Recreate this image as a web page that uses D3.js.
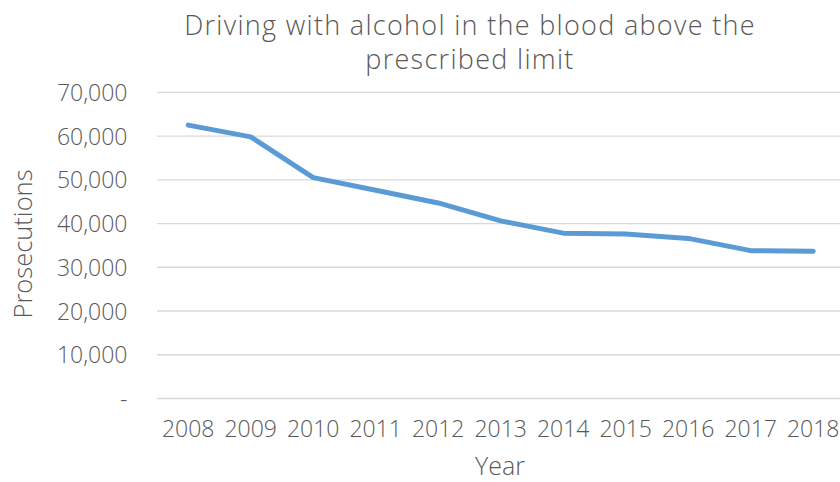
<!DOCTYPE html>
<html><head><meta charset="utf-8">
<script src="https://cdn.jsdelivr.net/npm/d3@7"></script>
<style>body{margin:0;background:#fff}text{font-family:"Open Sans",sans-serif;font-weight:300;fill:#595959}</style>
</head><body><svg id="c" width="840" height="482"></svg>
<script>
const years = ["2008","2009","2010","2011","2012","2013","2014","2015","2016","2017","2018"];
const prosecutions = [62500,59800,50500,47600,44700,40600,37800,37600,36600,33800,33650];
const yTicks = [0,10000,20000,30000,40000,50000,60000,70000];
const titleLines = ["Driving with alcohol in the blood above the","prescribed limit"];

(function(){
const svg = d3.select("#c");
const pL = 157, pR = 844.5, pT = 92.3, pB = 398.5;
const x = d3.scaleBand().domain(years).range([pL, pR]);
const y = d3.scaleLinear().domain([0,70000]).range([pB, pT]);

svg.append("g").selectAll("line").data(yTicks).join("line")
  .attr("x1", pL).attr("x2", 840).attr("y1", d=>y(d)).attr("y2", d=>y(d))
  .attr("stroke", "#d9d9d9").attr("stroke-width", 1.3);

const fmt = d3.format(",");
svg.append("g").selectAll("text").data(yTicks).join("text")
  .attr("x", 127.5).attr("y", d=>y(d)+8.5).attr("text-anchor","end")
  .attr("font-size", 23).text(d => d === 0 ? "-" : fmt(d));

svg.append("g").selectAll("text").data(years).join("text")
  .attr("x", d=>x(d)+x.bandwidth()/2).attr("y", 437).attr("text-anchor","middle")
  .attr("font-size", 23).text(d=>d);

const line = d3.line().x((d,i)=>x(years[i])+x.bandwidth()/2).y(d=>y(d));
svg.append("path").datum(prosecutions).attr("d", line)
  .attr("fill","none").attr("stroke","#5b9bd5").attr("stroke-width",5)
  .attr("stroke-linecap","round").attr("stroke-linejoin","round");

svg.append("text").attr("x", 500).attr("y", 475).attr("text-anchor","middle")
  .attr("font-size", 25).text("Year");
svg.append("text").attr("transform","translate(32,244) rotate(-90)").attr("text-anchor","middle")
  .attr("font-size", 25.5).text("Prosecutions");

svg.append("g").selectAll("text").data(titleLines).join("text")
  .attr("x", 470).attr("y", (d,i)=>35+i*34).attr("text-anchor","middle")
  .attr("font-size", 27).attr("letter-spacing", 1.3).text(d=>d);
})();
</script></body></html>
